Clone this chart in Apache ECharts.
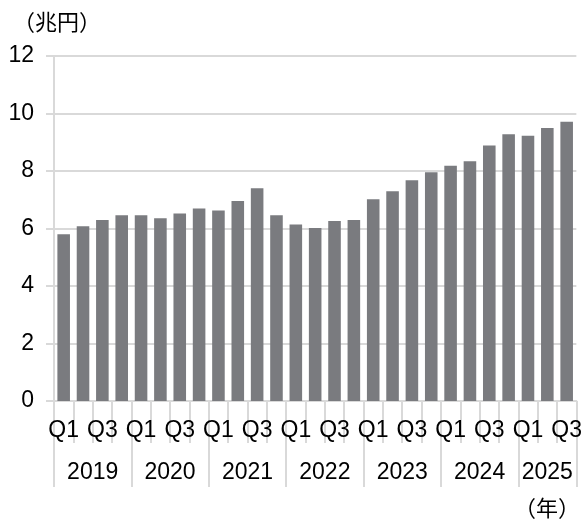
<!DOCTYPE html>
<html><head><meta charset="utf-8">
<script src="https://cdn.jsdelivr.net/npm/echarts@6/dist/echarts.min.js"></script>
<style>html,body{margin:0;padding:0;background:#fff}#c{width:585px;height:520px}</style>
</head><body><div id="c"></div>
<script>
const quarters = ['Q1','Q2','Q3','Q4','Q1','Q2','Q3','Q4','Q1','Q2','Q3','Q4','Q1','Q2','Q3','Q4','Q1','Q2','Q3','Q4','Q1','Q2','Q3','Q4','Q1','Q2','Q3'];
const values = [5.80,6.08,6.30,6.46, 6.46,6.36,6.52,6.70, 6.63,6.96,7.40,6.46, 6.14,6.02,6.26,6.30, 7.02,7.30,7.68,7.96, 8.18,8.34,8.89,9.28, 9.23,9.50,9.71];
const years = ['2019','2020','2021','2022','2023','2024','2025'];
const quartersPerYear = [4,4,4,4,4,4,3];
const yTicks = [0,2,4,6,8,10,12];

// derive year boundaries and centers (in quarter units)
const yearBounds = [0];
const yearCenters = [];
quartersPerYear.forEach(n => { const s = yearBounds[yearBounds.length-1]; yearCenters.push(s + n/2); yearBounds.push(s + n); });
const total = yearBounds[yearBounds.length-1];

const FONT = '"Liberation Sans", "Noto Sans CJK JP", sans-serif';
const grid = '#d9d9d9';
const chart = echarts.init(document.getElementById('c'));
chart.setOption({
  animation: false,
  title: [
    {text: '（兆円）', left: 8, top: 6, textStyle: {fontFamily: '"Noto Sans CJK JP"', fontSize: 22, fontWeight: 'normal', color: '#000'}},
    {text: '（年）', right: 0, top: 492, textStyle: {fontFamily: '"Noto Sans CJK JP"', fontSize: 22, fontWeight: 'normal', color: '#000'}}
  ],
  grid: {left: 54, right: 8, top: 56, bottom: 119},
  xAxis: [
    {
      type: 'category', data: quarters, boundaryGap: true,
      axisLine: {show: true, lineStyle: {color: grid, width: 2}},
      axisTick: {show: true, interval: 0, length: 42, lineStyle: {color: grid, width: 2}},
      axisLabel: {interval: 1, margin: 18, fontSize: 23, color: '#000', fontFamily: FONT},
      splitLine: {show: false}
    },
    {
      type: 'value', min: 0, max: total, position: 'bottom',
      axisLine: {show: false},
      axisTick: {show: true, length: 86, customValues: yearBounds, lineStyle: {color: grid, width: 2}},
      axisLabel: {show: true, customValues: yearCenters, margin: 60, fontSize: 23, color: '#000', fontFamily: FONT,
        formatter: v => years[yearCenters.indexOf(v)] || ''},
      splitLine: {show: false}
    }
  ],
  yAxis: {
    type: 'value', min: 0, max: 12, interval: 2,
    axisLine: {show: true, lineStyle: {color: grid, width: 2}},
    axisTick: {show: true, length: 8, lineStyle: {color: grid, width: 2}},
    axisLabel: {margin: 20, fontSize: 23, color: '#000', fontFamily: FONT,
      formatter: v => yTicks.includes(v) ? String(v) : ''},
    splitLine: {show: true, lineStyle: {color: grid, width: 2}}
  },
  series: [{
    type: 'bar', xAxisIndex: 0, data: values, barCategoryGap: '35%',
    itemStyle: {color: '#7a7b7f'}
  }]
});
</script></body></html>
